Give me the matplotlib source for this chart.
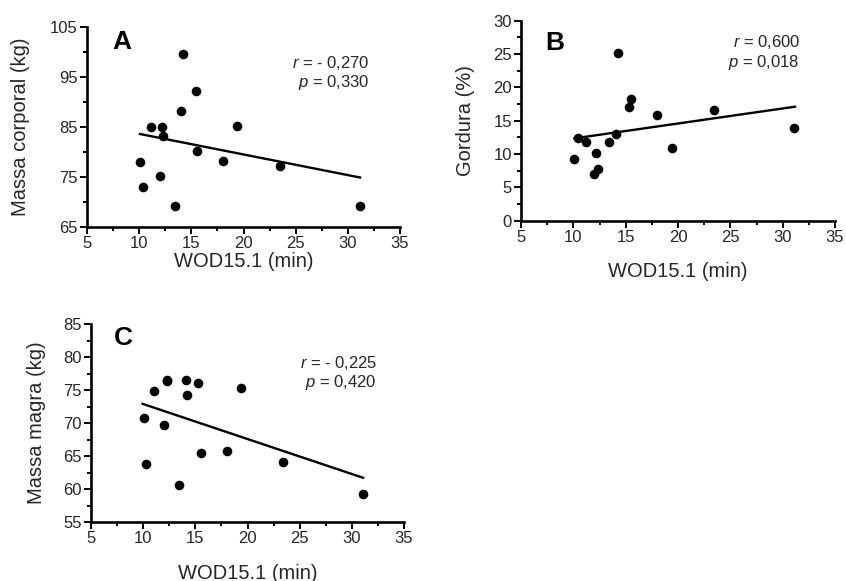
import matplotlib
matplotlib.use("Agg")
import matplotlib.pyplot as plt
import numpy as np
from matplotlib.ticker import FixedLocator, MultipleLocator

plt.rcParams['font.family'] = ['Liberation Sans', 'DejaVu Sans']
plt.rcParams['mathtext.fontset'] = 'custom'
plt.rcParams['mathtext.it'] = 'Liberation Sans:italic'
plt.rcParams['mathtext.rm'] = 'Liberation Sans'

# ---- data ----
wod_A = [10.1, 10.4, 11.1, 12.2, 12.3, 12.0, 13.4, 14.2, 14.05, 15.4, 15.55, 18.05, 19.4, 23.5, 31.2]
massa_corporal = [78, 73, 85, 85, 83.1, 75.2, 69.1, 99.5, 88.1, 92.1, 80.2, 78.1, 85.1, 77.2, 69.2]

wod_B = [10.1, 10.4, 11.2, 12.2, 12.0, 12.4, 13.4, 14.1, 14.3, 15.35, 15.5, 18.0, 19.4, 23.4, 31.1]
gordura = [9.2, 12.35, 11.85, 10.1, 6.95, 7.75, 11.85, 12.95, 25.2, 17.1, 18.25, 15.85, 10.95, 16.6, 13.95]

wod_C = [10.07, 10.3, 11.06, 12.25, 12.3, 12.0, 13.4, 14.07, 14.2, 15.3, 15.5, 18.0, 19.4, 23.4, 31.1]
massa_magra = [70.7, 63.8, 74.9, 76.55, 76.4, 69.7, 60.6, 76.5, 74.25, 76.1, 65.4, 65.75, 75.3, 64.1, 59.2]

# fitted regression line endpoints
fit_A_x = [10.08, 31.17]; fit_A_y = [83.6, 74.9]
fit_B_x = [10.1, 31.18]; fit_B_y = [12.35, 17.1]
fit_C_x = [9.95, 31.08]; fit_C_y = [72.9, 61.7]

x_ticks = [5, 10, 15, 20, 25, 30, 35]
yticks_A = [65, 75, 85, 95, 105]
yticks_B = [0, 5, 10, 15, 20, 25, 30]
yticks_C = [55, 60, 65, 70, 75, 80, 85]

stats_A = ("- 0,270", "0,330")
stats_B = ("0,600", "0,018")
stats_C = ("- 0,225", "0,420")

W, H = 846, 581
fig = plt.figure(figsize=(W / 100, H / 100), dpi=100)

def px_axes(left, right, top, bottom):
    return fig.add_axes([left / W, 1 - bottom / H, (right - left) / W, (bottom - top) / H])

panels = [
    dict(box=(87, 400, 27, 227), x=wod_A, y=massa_corporal, fx=fit_A_x, fy=fit_A_y,
         yticks=yticks_A, ylabel="Massa corporal (kg)", letter="A",
         letpos=(0.112, 0.925), stats=stats_A, spos=(370, 63, 83),
         ylab_x=-0.214, xlab_y=-0.175),
    dict(box=(521, 835, 20.7, 220.7), x=wod_B, y=gordura, fx=fit_B_x, fy=fit_B_y,
         yticks=yticks_B, ylabel="Gordura (%)", letter="B",
         letpos=(0.108, 0.89), stats=stats_B, spos=(800, 42, 62),
         ylab_x=-0.178, xlab_y=-0.256),
    dict(box=(91, 404, 324, 522), x=wod_C, y=massa_magra, fx=fit_C_x, fy=fit_C_y,
         yticks=yticks_C, ylabel="Massa magra (kg)", letter="C",
         letpos=(0.102, 0.93), stats=stats_C, spos=(377, 363, 383),
         ylab_x=-0.173, xlab_y=-0.258),
]

for p in panels:
    l, r, t, b = p['box']
    ax = px_axes(l, r, t, b)
    ax.scatter(p['x'], p['y'], s=48, color='black', zorder=3, linewidths=0)
    ax.plot(p['fx'], p['fy'], color='black', lw=1.7, zorder=2)
    yt = p['yticks']
    ax.set_xlim(x_ticks[0], x_ticks[-1])
    ax.set_ylim(yt[0], yt[-1])
    ax.xaxis.set_major_locator(FixedLocator(x_ticks))
    ax.xaxis.set_minor_locator(MultipleLocator(2.5))
    ax.yaxis.set_major_locator(FixedLocator(yt))
    step = (yt[1] - yt[0]) / 2
    ax.yaxis.set_minor_locator(FixedLocator(np.arange(yt[0], yt[-1] + step / 2, step)))
    for s in ['top', 'right']:
        ax.spines[s].set_visible(False)
    for s in ['left', 'bottom']:
        ax.spines[s].set_linewidth(1.9)
    ax.tick_params(which='major', length=5, width=1.4, labelsize=12, labelcolor='#262626', pad=1.5)
    ax.tick_params(which='minor', length=3, width=1.4)
    ax.set_xlabel("WOD15.1 (min)", fontsize=14.5, color='#262626')
    ax.set_ylabel(p['ylabel'], fontsize=14.5, color='#262626')
    ax.xaxis.label.set_va('center')
    ax.yaxis.label.set_va('center')
    ax.xaxis.set_label_coords(0.5, p['xlab_y'])
    ax.yaxis.set_label_coords(p['ylab_x'], 0.5)
    ax.text(p['letpos'][0], p['letpos'][1], p['letter'], transform=ax.transAxes,
            fontsize=19, fontweight='bold', ha='center', va='center')
    sx, sy1, sy2 = p['spos']
    fx = (sx - l) / (r - l)
    fy1 = 1 - (sy1 - t) / (b - t)
    fy2 = 1 - (sy2 - t) / (b - t)
    ax.text(fx, fy1, r"$r$ = " + p['stats'][0], transform=ax.transAxes, ha='right', va='center',
            fontsize=12, color='#262626')
    ax.text(fx, fy2, r"$p$ = " + p['stats'][1], transform=ax.transAxes, ha='right', va='center',
            fontsize=12, color='#262626')

fig.savefig("out.png", dpi=100)
